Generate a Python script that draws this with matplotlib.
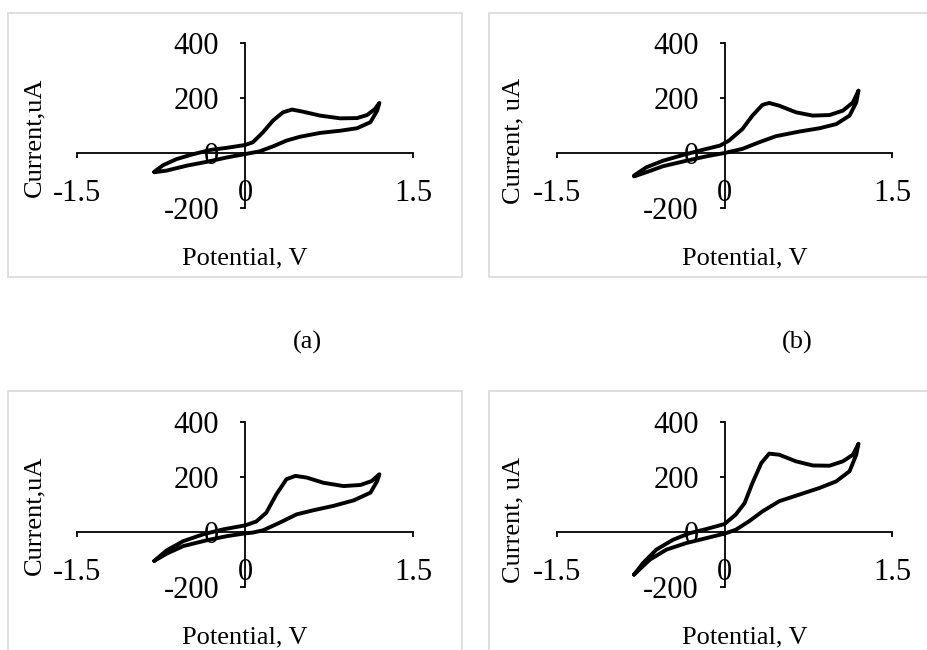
import matplotlib.pyplot as plt
from matplotlib.patches import Rectangle

plt.rcParams["font.family"] = ["Liberation Serif", "DejaVu Serif"]

# cyclic voltammograms: upper branch from the left vertex
# to the right vertex, then the return branch back to the left vertex
potential_a = [-0.81, -0.73, -0.61, -0.46, -0.31, -0.16, 0.00, 0.07, 0.16, 0.25,
               0.34, 0.42, 0.52, 0.67, 0.85, 1.00, 1.09, 1.16, 1.20,
               1.18, 1.12, 1.00, 0.85, 0.67, 0.49, 0.37, 0.25, 0.13, 0.00,
               -0.16, -0.34, -0.52, -0.70, -0.81]
current_a = [-68, -44, -22, -4, 11, 19, 29, 39, 75, 118,
             148, 158, 150, 136, 126, 127, 138, 160, 182,
             154, 112, 90, 81, 73, 59, 45, 24, 6, -4,
             -16, -32, -46, -64, -70]

potential_b = [-0.81, -0.70, -0.55, -0.37, -0.19, -0.04, 0.04, 0.16, 0.25, 0.34,
               0.40, 0.49, 0.64, 0.79, 0.94, 1.06, 1.15, 1.20,
               1.18, 1.12, 1.00, 0.85, 0.67, 0.46, 0.31, 0.16, 0.00,
               -0.16, -0.34, -0.55, -0.70, -0.81]
current_b = [-82, -52, -28, -7, 12, 27, 45, 87, 136, 175,
             182, 172, 148, 136, 138, 154, 184, 227,
             184, 136, 105, 90, 78, 61, 39, 15, 0,
             -12, -28, -48, -70, -85]

potential_c = [-0.81, -0.70, -0.55, -0.37, -0.19, 0.00, 0.10, 0.19, 0.28, 0.37,
               0.45, 0.55, 0.70, 0.88, 1.03, 1.13, 1.20,
               1.18, 1.12, 0.97, 0.79, 0.61, 0.46, 0.31, 0.16, 0.07, 0.00,
               -0.16, -0.34, -0.55, -0.70, -0.81]
current_c = [-105, -67, -33, -8, 10, 24, 38, 70, 137, 192,
             204, 198, 179, 167, 171, 185, 210,
             185, 143, 115, 95, 79, 64, 34, 6, -2, -5,
             -15, -30, -51, -79, -105]

potential_d = [-0.81, -0.73, -0.61, -0.46, -0.31, -0.16, 0.00, 0.10, 0.18, 0.25,
               0.33, 0.40, 0.49, 0.64, 0.79, 0.94, 1.06, 1.15, 1.20,
               1.18, 1.12, 1.00, 0.85, 0.67, 0.49, 0.34, 0.22, 0.10, 0.00,
               -0.16, -0.34, -0.52, -0.67, -0.81]
current_d = [-155, -113, -64, -28, -4, 11, 29, 63, 105, 178,
             251, 285, 281, 257, 242, 241, 257, 281, 321,
             281, 221, 184, 160, 136, 112, 75, 39, 8, -6,
             -22, -40, -64, -101, -155]

x_ticks = [-1.5, 0, 1.5]
x_tick_labels = ["-1.5", "0", "1.5"]
y_ticks = [-200, 0, 200, 400]
y_tick_labels = ["-200", "0", "200", "400"]

W, H = 928, 650


def fig_xy(x, y):
    return x / W, 1 - y / H


def draw_panel(fig, left, top, width, potential, current):
    # left/top/width in pixels, plot area height is the same for all panels
    height = 165
    ax = fig.add_axes([left / W, 1 - (top + height) / H, width / W, height / H])
    ax.plot(potential, current, color="black", linewidth=2.8,
            solid_joinstyle="round", solid_capstyle="round")
    ax.set_xlim(-1.5, 1.5)
    ax.set_ylim(-200, 400)
    ax.spines["left"].set_position(("data", 0))
    ax.spines["bottom"].set_position(("data", 0))
    ax.spines["top"].set_visible(False)
    ax.spines["right"].set_visible(False)
    for side in ("left", "bottom"):
        ax.spines[side].set_linewidth(1.3)
    ax.set_xticks(x_ticks)
    ax.set_xticklabels(x_tick_labels)
    ax.set_yticks(y_ticks)
    ax.set_yticklabels(y_tick_labels)
    ax.tick_params(direction="out", length=3.6, width=1.3, labelsize=22)
    ax.tick_params(axis="x", pad=15)
    ax.tick_params(axis="y", pad=15)
    ax.patch.set_visible(False)
    return ax


def draw_box(fig, x0, y0, x1, y1):
    bx, by = fig_xy(x0, y1)
    fig.add_artist(Rectangle((bx, by), (x1 - x0) / W, (y1 - y0) / H,
                             transform=fig.transFigure, fill=False,
                             edgecolor="#d9d9d9", linewidth=1.2))


fig = plt.figure(figsize=(9.28, 6.5), dpi=100)

draw_box(fig, 8, 13, 462, 277)
draw_box(fig, 489, 13, 935, 277)
draw_box(fig, 8, 391, 462, 660)
draw_box(fig, 489, 391, 935, 660)

draw_panel(fig, 77, 43, 336, potential_a, current_a)
draw_panel(fig, 557, 43, 335, potential_b, current_b)
draw_panel(fig, 77, 422, 336, potential_c, current_c)
draw_panel(fig, 557, 422, 335, potential_d, current_d)

labels = [
    (34, 137, "Current,uA", 90),
    (513, 141, "Current, uA", 90),
    (34, 515, "Current,uA", 90),
    (513, 520, "Current, uA", 90),
    (245, 258, "Potential, V", 0),
    (745, 258, "Potential, V", 0),
    (245, 637, "Potential, V", 0),
    (745, 637, "Potential, V", 0),
    (307, 342, "(a)", 0),
    (797, 342, "(b)", 0),
]
for x, y, text, rot in labels:
    fx, fy = fig_xy(x, y)
    fig.text(fx, fy, text, ha="center", va="center", rotation=rot, fontsize=19)

fig.savefig("out.png", dpi=100)
